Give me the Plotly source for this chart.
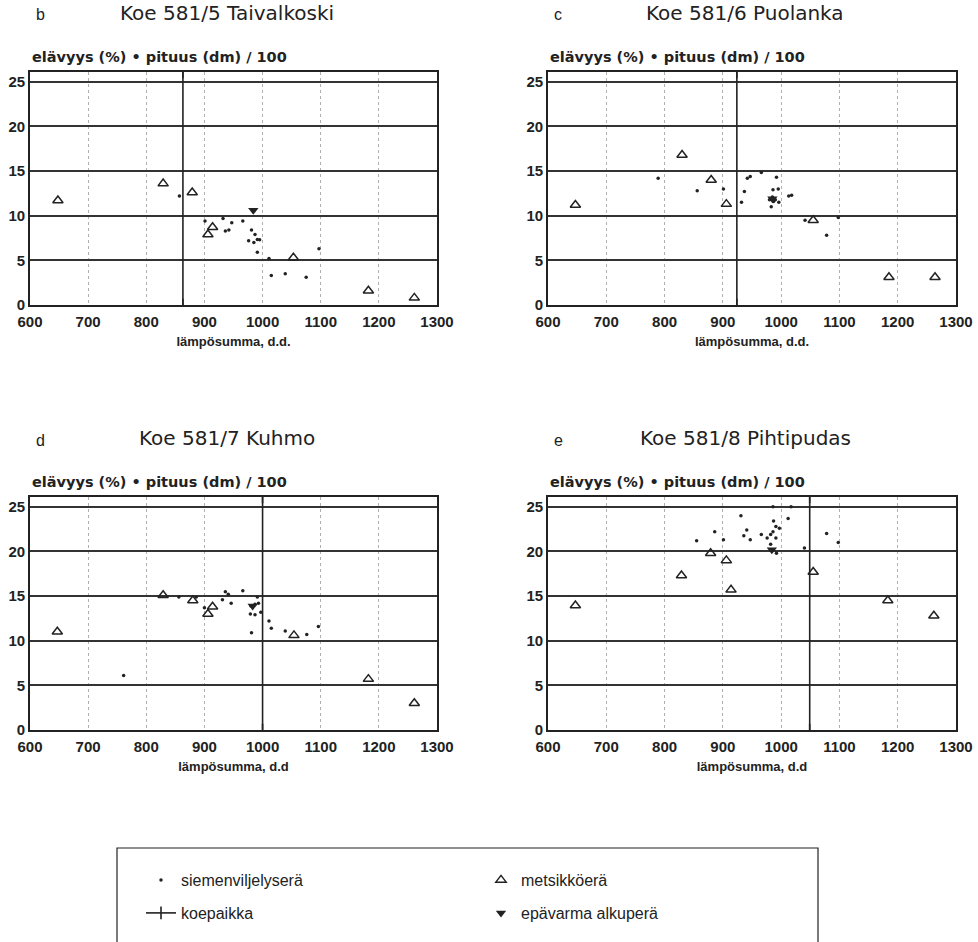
import plotly.graph_objects as go

W, H = 978, 942
OFFSET = 0  # body margin is removed below, so figure px == screen px
FONT = "Liberation Sans"
WIDE = "DejaVu Sans"
INK = "#222222"

# ---------------- data ----------------
panel_letters = ["b", "c", "d", "e"]
panel_titles = ["Koe 581/5 Taivalkoski", "Koe 581/6 Puolanka", "Koe 581/7 Kuhmo", "Koe 581/8 Pihtipudas"]
x_titles = ["lämpösumma, d.d.", "lämpösumma, d.d.", "lämpösumma, d.d", "lämpösumma, d.d"]
y_title = "elävyys (%) • pituus (dm) / 100"
x_ticks = [600, 700, 800, 900, 1000, 1100, 1200, 1300]
y_ticks = [0, 5, 10, 15, 20, 25]

b_seed_x = [857, 901, 932, 936, 942, 947, 966, 981, 976, 985, 987, 991, 995, 991, 1011, 1015, 1039, 1075, 1097]
b_seed_y = [12.2, 9.4, 9.7, 8.3, 8.4, 9.2, 9.4, 8.4, 7.2, 7.0, 7.9, 7.35, 7.3, 5.9, 5.2, 3.3, 3.5, 3.1, 6.3]
b_stand_x = [648, 829, 879, 906, 914, 1053, 1182, 1261]
b_stand_y = [11.7, 13.6, 12.6, 7.9, 8.7, 5.3, 1.6, 0.8]
b_unc_x = [984]
b_unc_y = [10.6]
b_site = 863

c_seed_x = [789, 856, 901, 932, 937, 942, 947, 966, 992, 986, 995, 980, 985, 987, 990, 996, 983, 1013, 1018, 1041, 1098, 1078]
c_seed_y = [14.2, 12.8, 13.0, 11.5, 12.7, 14.2, 14.4, 14.85, 14.3, 12.9, 13.0, 11.8, 12.1, 11.6, 11.8, 11.5, 11.0, 12.2, 12.3, 9.5, 9.8, 7.8]
c_stand_x = [647, 830, 880, 906, 1055, 1185, 1264]
c_stand_y = [11.2, 16.8, 14.0, 11.3, 9.5, 3.1, 3.1]
c_unc_x = [985]
c_unc_y = [11.9]
c_site = 924

d_seed_x = [761, 856, 886, 900, 931, 936, 941, 946, 966, 991, 981, 997, 1011, 1015, 1039, 1076, 1096, 980, 987, 979, 987, 993]
d_seed_y = [6.1, 14.9, 14.9, 13.7, 14.6, 15.5, 15.2, 14.2, 15.6, 14.9, 10.9, 13.2, 12.2, 11.4, 11.1, 10.7, 11.6, 13.9, 14.1, 13.0, 12.9, 14.2]
d_stand_x = [647, 829, 880, 906, 914, 1054, 1182, 1261]
d_stand_y = [11.0, 15.1, 14.5, 13.0, 13.8, 10.6, 5.7, 3.0]
d_unc_x = [983]
d_unc_y = [13.9]
d_site = 1000

e_seed_x = [855, 886, 901, 931, 936, 941, 947, 966, 976, 982, 986, 987, 986, 991, 991, 997, 982, 992, 1012, 1017, 1040, 1078, 1098]
e_seed_y = [21.2, 22.2, 21.3, 24.0, 21.75, 22.4, 21.3, 21.9, 21.5, 21.9, 22.2, 23.4, 25.0, 21.5, 22.8, 22.6, 20.8, 19.8, 23.7, 25.0, 20.4, 22.0, 21.0]
e_stand_x = [647, 829, 879, 906, 914, 1055, 1183, 1262]
e_stand_y = [13.95, 17.3, 19.8, 19.0, 15.7, 17.7, 14.5, 12.8]
e_unc_x = [984]
e_unc_y = [20.2]
e_site = 1049

legend_names = ["siemenviljelyserä", "metsikköerä", "koepaikka", "epävarma alkuperä"]

panels = [
    (b_seed_x, b_seed_y, b_stand_x, b_stand_y, b_unc_x, b_unc_y, b_site),
    (c_seed_x, c_seed_y, c_stand_x, c_stand_y, c_unc_x, c_unc_y, c_site),
    (d_seed_x, d_seed_y, d_stand_x, d_stand_y, d_unc_x, d_unc_y, d_site),
    (e_seed_x, e_seed_y, e_stand_x, e_stand_y, e_unc_x, e_unc_y, e_site),
]

# ---------------- layout geometry (screen px) ----------------
cols = [(30, 437), (548, 956)]
rows = [(72, 305), (497, 730)]
Y_TOP = 26.1


def px_x(p):
    return (p - OFFSET) / W


def px_y(p):
    return 1 - (p - OFFSET) / H


fig = go.Figure()
layout = dict(
    width=W, height=H,
    margin=dict(l=0, r=0, t=0, b=0, pad=0, autoexpand=False),
    paper_bgcolor="white", plot_bgcolor="white",
    font=dict(family=FONT, color=INK),
    annotations=[], shapes=[],
)

for i, (sx, sy, tx, ty, ux, uy, site) in enumerate(panels):
    c = i % 2
    r = i // 2
    n = "" if i == 0 else str(i + 1)
    xa, ya = "x" + n, "y" + n
    x0, x1 = cols[c]
    y0, y1 = rows[r]
    first = i == 0
    # koepaikka line
    fig.add_trace(go.Scatter(
        x=[site, site], y=[0, Y_TOP], mode="lines+markers",
        line=dict(color=INK, width=1.6),
        marker=dict(symbol="line-ns", size=9, line=dict(color=INK, width=1.6)),
        name=legend_names[2], showlegend=first, legend="legend2",
        xaxis=xa, yaxis=ya, hoverinfo="skip"))
    fig.add_trace(go.Scatter(
        x=sx, y=sy, mode="markers",
        marker=dict(symbol="circle", size=3.5, color=INK),
        name=legend_names[0], showlegend=first, legend="legend",
        xaxis=xa, yaxis=ya))
    fig.add_trace(go.Scatter(
        x=tx, y=ty, mode="markers",
        marker=dict(symbol="triangle-up-open", size=9, color=INK, line=dict(width=1.5, color=INK)),
        name=legend_names[1], showlegend=first, legend="legend",
        xaxis=xa, yaxis=ya))
    fig.add_trace(go.Scatter(
        x=ux, y=uy, mode="markers",
        marker=dict(symbol="triangle-down", size=9, color=INK),
        name=legend_names[3], showlegend=first, legend="legend2",
        xaxis=xa, yaxis=ya))

    layout["xaxis" + n] = dict(
        domain=[px_x(x0), px_x(x1)], anchor=ya, range=[600, 1300],
        tickvals=x_ticks, ticks="", showgrid=True, gridcolor="#b0b0b0",
        griddash="dot", gridwidth=1, zeroline=False, automargin=False,
        showline=True, linecolor=INK, linewidth=1.6, mirror=True,
        tickfont=dict(size=15, family=FONT, color=INK, weight="bold"),
        ticklabelstandoff=2,
        title=dict(text=x_titles[i], font=dict(size=13, family=FONT, color=INK, weight="bold"), standoff=8),
    )
    layout["yaxis" + n] = dict(
        domain=[px_y(y1), px_y(y0)], anchor=xa, range=[0, Y_TOP],
        tickvals=y_ticks, ticks="", showgrid=True, gridcolor="#333333",
        gridwidth=1.5, zeroline=False, automargin=False,
        showline=True, linecolor=INK, linewidth=1.6, mirror=True,
        tickfont=dict(size=15, family=FONT, color=INK, weight="bold"),
        ticklabelstandoff=0,
    )
    # letter + title
    layout["annotations"].append(dict(
        text=panel_letters[i], xref="paper", yref="paper",
        x=px_x(x0 + 4), y=px_y(y0 - 57), xanchor="left", yanchor="middle",
        showarrow=False, font=dict(size=16, family=FONT, color=INK)))
    layout["annotations"].append(dict(
        text=panel_titles[i], xref="paper", yref="paper",
        x=px_x(x0 + 197), y=px_y(y0 - 59), xanchor="center", yanchor="middle",
        showarrow=False, font=dict(size=20, family=WIDE, color=INK)))
    layout["annotations"].append(dict(
        text=y_title, xref="paper", yref="paper",
        x=px_x(x0), y=px_y(y0 - 15), xanchor="left", yanchor="middle",
        showarrow=False, font=dict(size=14.5, family=WIDE, color=INK, weight="bold")))

# legend box
layout["shapes"].append(dict(
    type="rect", xref="paper", yref="paper",
    x0=px_x(117), x1=px_x(818), y0=px_y(980), y1=px_y(848),
    line=dict(color=INK, width=1.2), fillcolor="rgba(0,0,0,0)"))

leg_common = dict(
    orientation="h", xanchor="left", yanchor="middle",
    bgcolor="rgba(0,0,0,0)", borderwidth=0,
    font=dict(size=16, family=FONT, color=INK),
    entrywidth=295, entrywidthmode="pixels", itemclick=False,
)
layout["legend"] = dict(leg_common, x=px_x(141), y=px_y(880))
layout["legend2"] = dict(leg_common, x=px_x(141), y=px_y(913))

fig.update_layout(**layout)
fig.write_html("out.html", config={"displayModeBar": False},
               post_script="document.body.style.margin='0';")
